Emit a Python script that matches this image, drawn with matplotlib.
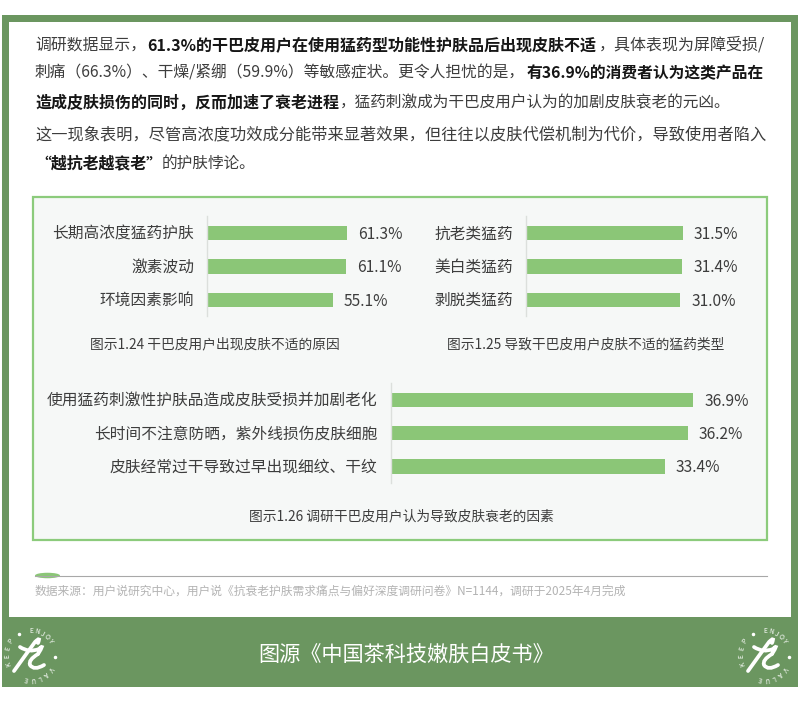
import numpy as np
import matplotlib
matplotlib.use('Agg')
from matplotlib import pyplot as plt
from matplotlib.patches import Rectangle, Ellipse, PathPatch
from matplotlib.path import Path
from matplotlib.transforms import ScaledTranslation

plt.rcParams['font.family'] = ['Noto Sans CJK SC', 'DejaVu Sans']

W, H = 800, 703
GREEN = '#6b9660'
BAR = '#8bc677'
TXT = '#3d3d3d'
BOLD = '#161616'

labels_a = ['长期高浓度猛药护肤', '激素波动', '环境因素影响']
values_a = [61.3, 61.1, 55.1]
labels_b = ['抗老类猛药', '美白类猛药', '剥脱类猛药']
values_b = [31.5, 31.4, 31.0]
labels_c = ['使用猛药刺激性护肤品造成皮肤受损并加剧老化', '长时间不注意防晒，紫外线损伤皮肤细胞', '皮肤经常过干导致过早出现细纹、干纹']
values_c = [36.9, 36.2, 33.4]

# paragraph pieces: y, text, bold, x start, x end (pixels)
para = [
    (45, '调研数据显示，', 0, 35, 146),
    (45, '61.3%的干巴皮用户在使用猛药型功能性护肤品后出现皮肤不适', 1, 147, 598),
    (45, '，具体表现为屏障受损/', 0, 599, 765),
    (73, '刺痛（66.3%）、干燥/紧绷（59.9%）等敏感症状。更令人担忧的是，', 0, 35, 526),
    (73, '有36.9%的消费者认为这类产品在', 1, 527, 765),
    (103, '造成皮肤损伤的同时，反而加速了衰老进程', 1, 35, 339),
    (103, '，猛药刺激成为干巴皮用户认为的加剧皮肤衰老的元凶。', 0, 340, 731),
    (135, '这一现象表明，尽管高浓度功效成分能带来显著效果，但往往以皮肤代偿机制为代价，导致使用者陷入', 0, 35, 766),
    (163, '“越抗老越衰老”', 1, 35, 162),
    (163, '的护肤悖论。', 0, 162, 256),
]

fig = plt.figure(figsize=(W / 100, H / 100), dpi=100, facecolor='white')
bg = fig.add_axes([0, 0, 1, 1])
bg.set_xlim(0, W)
bg.set_ylim(H, 0)
bg.axis('off')

bg.add_patch(Rectangle((2, 15), 796, 672, fc=GREEN, ec='none'))
bg.add_patch(Rectangle((9, 22), 782, 595, fc='white', ec='none'))
bg.add_patch(Rectangle((33, 196.5), 734, 343.5, fc='#f6f8f7', ec='#8ccb7c', lw=1.6))

renderer = fig.canvas.get_renderer()
for y, s, b, x0, x1 in para:
    t = bg.text(x0, y, s, fontsize=11.6, va='center', ha='left',
                color=BOLD if b else TXT, fontweight='bold' if b else 'normal')
    # squeeze the piece to the width it has in the picture
    t.set_fontsize(11.6 * (x1 - x0) / t.get_window_extent(renderer).width)


def bars(x0, x1, y0, y1, labels, values, scale):
    # axes placed in pixels, scale is px per percent point
    ax = fig.add_axes([x0 / W, 1 - y1 / H, (x1 - x0) / W, (y1 - y0) / H])
    ax.patch.set_alpha(0)
    pos = np.arange(len(values))
    ax.barh(pos, values, height=0.43, color=BAR)
    ax.set_xlim(0, (x1 - x0) / scale)
    ax.set_ylim(2.5, -0.5)
    ax.set_yticks(pos, labels, fontsize=11.3, color=TXT)
    ax.tick_params(axis='y', length=0, pad=9.4)
    up = ScaledTranslation(0, 1.2 / 100, fig.dpi_scale_trans)
    for lab in ax.get_yticklabels():
        lab.set_transform(lab.get_transform() + up)
    ax.set_xticks([])
    for s in ['top', 'right', 'bottom']:
        ax.spines[s].set_visible(False)
    ax.spines['left'].set_color('#dcdfdc')
    ax.spines['left'].set_linewidth(1)
    for p, v in zip(pos, values):
        ax.annotate(f'{v:.1f}%', (v, p), xytext=(8, -1), textcoords='offset points',
                    va='center', fontsize=11.2, color=TXT)


bars(207, 420, 216.5, 316.5, labels_a, values_a, 2.28)
bars(526, 760, 216.5, 316.5, labels_b, values_b, 4.97)
bars(390.7, 760, 383, 483, labels_c, values_c, 8.2)

bg.text(214.5, 344, '图示1.24 干巴皮用户出现皮肤不适的原因', fontsize=9.9, color=TXT, ha='center', va='center')
bg.text(586, 344, '图示1.25 导致干巴皮用户皮肤不适的猛药类型', fontsize=9.9, color=TXT, ha='center', va='center')
bg.text(401, 516, '图示1.26 调研干巴皮用户认为导致皮肤衰老的因素', fontsize=9.9, color=TXT, ha='center', va='center')

bg.plot([35, 767], [575.5, 575.5], color='#a8a8a8', lw=0.8)
bg.add_patch(Ellipse((47.5, 575.5), 25, 5.5, fc=BAR, ec='none'))
bg.text(35, 591, '数据来源：用户说研究中心，用户说《抗衰老护肤需求痛点与偏好深度调研问卷》N=1144，调研于2025年4月完成',
        fontsize=8.5, color='#b3b3b3', ha='left', va='center')
bg.text(406, 655, '图源《中国茶科技嫩肤白皮书》', fontsize=15.25, color='white', ha='center', va='center')


def logo(cx, cy):
    ring = [('KEEP', 200, 18), ('ENJOY', 90, 14), ('VALUE', -35, 17)]
    for word, start, step in ring:
        for i, ch in enumerate(word):
            a = np.radians(start - i * step)
            bg.text(cx + 24 * np.cos(a), cy - 24 * np.sin(a), ch, fontsize=4.8, color='white',
                    ha='center', va='center', rotation=np.degrees(a) - 90,
                    rotation_mode='anchor')
    for a in [119, -5]:
        r = np.radians(a)
        bg.plot(cx + 24 * np.cos(r), cy - 24 * np.sin(r), 'o', ms=1.5, color='white')
    codes = [Path.MOVETO, Path.CURVE3, Path.CURVE3, Path.CURVE3, Path.CURVE3]
    stroke1 = [(-17, 16), (-7, 2), (4, -13), (10, -19), (7, -12)]
    stroke2 = [(-11, -8), (-2, -2), (8, -6), (14, -12), (7, -1)]
    stroke3 = [(7, -1), (-3, 5), (-1, 10), (3, 16), (13, 10)]
    for st in [stroke1, stroke2, stroke3]:
        pts = [(cx + a, cy + b) for a, b in st]
        bg.add_patch(PathPatch(Path(pts, codes), fc='none', ec='white', lw=2.7, capstyle='round'))


logo(31, 655)
logo(765, 655)

fig.savefig('out.png', dpi=100)
